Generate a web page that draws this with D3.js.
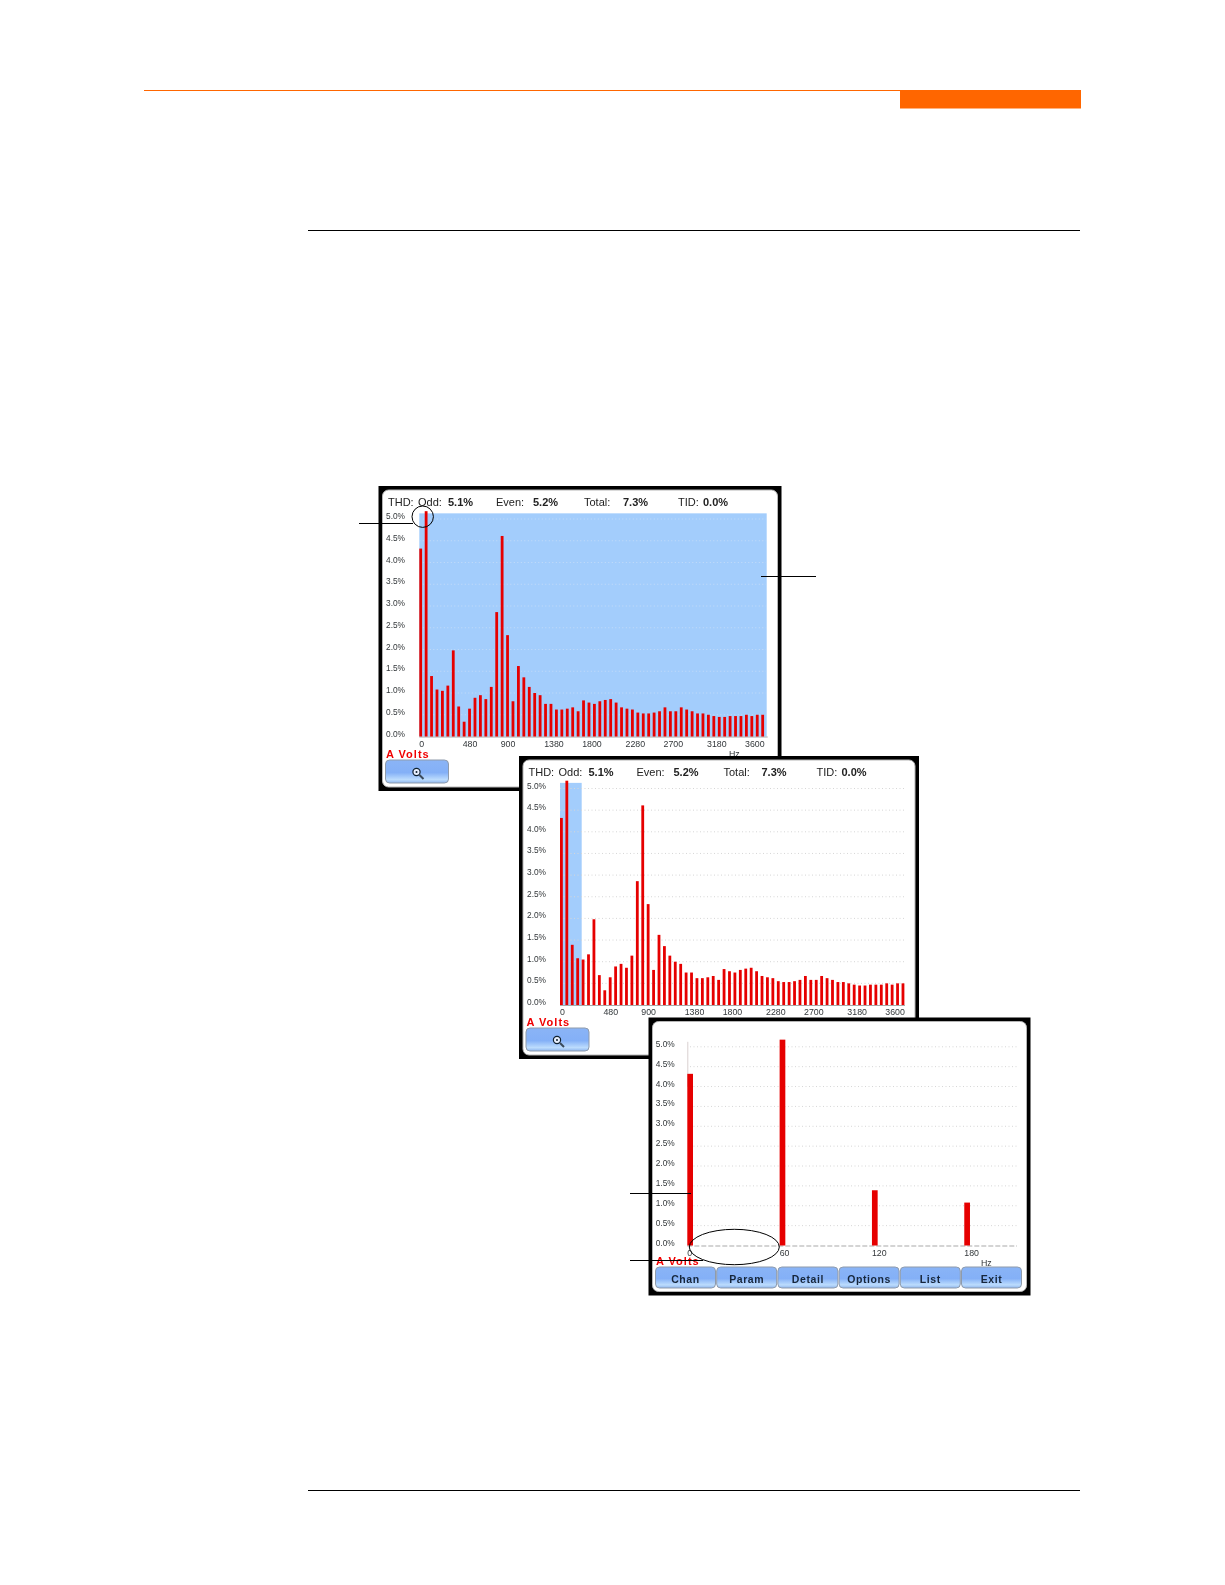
<!DOCTYPE html>
<html>
<head>
<meta charset="utf-8">
<script src="https://cdn.jsdelivr.net/npm/d3@7"></script>
<style>
  html, body { margin: 0; background: #fff; }
  svg { display: block; }
  text { font-family: "Liberation Sans", sans-serif; }
</style>
</head>
<body>
<script>
// harmonic spectrum, one value every 60 Hz, in percent
var harmonicHz = d3.range(64).map(function (i) { return i * 60 })
var harmonicPct = [
  4.32, 5.18, 1.39, 1.08, 1.05, 1.17, 1.98, 0.69, 0.34, 0.64, 0.89, 0.95, 0.86, 1.14, 2.86, 4.61,
  2.33, 0.81, 1.62, 1.36, 1.14, 1.00, 0.95, 0.75, 0.75, 0.62, 0.62, 0.64, 0.67, 0.58, 0.83, 0.78,
  0.75, 0.81, 0.84, 0.86, 0.78, 0.67, 0.64, 0.62, 0.55, 0.53, 0.53, 0.55, 0.58, 0.67, 0.58, 0.58,
  0.67, 0.62, 0.58, 0.53, 0.53, 0.50, 0.47, 0.45, 0.45, 0.47, 0.47, 0.47, 0.50, 0.47, 0.50, 0.50
]
var yTicks = [0, 0.5, 1, 1.5, 2, 2.5, 3, 3.5, 4, 4.5, 5]
var fullTicks = [0, 480, 900, 1380, 1800, 2280, 2700, 3180, 3600]
var zoomTicks = [0, 60, 120, 180]
var headerLabels = ['Odd:', 'Even:', 'Total:', 'TID:']
var headerValues = ['5.1%', '5.2%', '7.3%', '0.0%']
var softKeys = ['Chan', 'Param', 'Detail', 'Options', 'List', 'Exit']

var RED = '#e60000'
var BLUE = '#a3cdfc'

var svg = d3.select('body').append('svg').attr('width', 1225).attr('height', 1585)

var defs = svg.append('defs')
var grad = defs.append('linearGradient').attr('id', 'btn').attr('x1', 0).attr('x2', 0).attr('y1', 0).attr('y2', 1)
grad.append('stop').attr('offset', '0%').attr('stop-color', '#8ab4f6')
grad.append('stop').attr('offset', '55%').attr('stop-color', '#84b0f7')
grad.append('stop').attr('offset', '85%').attr('stop-color', '#bcdcfd')
grad.append('stop').attr('offset', '100%').attr('stop-color', '#8fb6ee')
defs.append('filter').attr('id', 'soft')
  .append('feGaussianBlur').attr('stdDeviation', 0.35)

// page furniture
svg.append('rect').attr('x', 144).attr('y', 90).attr('width', 756).attr('height', 1).attr('fill', '#ff6600')
svg.append('rect').attr('x', 900).attr('y', 90).attr('width', 181).attr('height', 18.5).attr('fill', '#ff6600')
svg.append('rect').attr('x', 308).attr('y', 230).attr('width', 772).attr('height', 1).attr('fill', '#000')
svg.append('rect').attr('x', 308).attr('y', 1490).attr('width', 772).attr('height', 1).attr('fill', '#000')

function button (g, x, y, w, h, label) {
  var b = g.append('g').attr('transform', `translate(${x},${y})`)
  b.append('rect').attr('width', w).attr('height', h).attr('rx', 4)
    .attr('fill', 'url(#btn)').attr('stroke', '#8f9bab').attr('stroke-width', 1)
  if (label) {
    b.append('text').attr('x', w / 2).attr('y', h / 2 + 5).attr('text-anchor', 'middle')
      .attr('font-size', 10.5).attr('font-weight', 'bold').attr('letter-spacing', 0.6)
      .attr('fill', '#16263a').text(label)
  }
  return b
}

function panel (p) {
  var g = svg.append('g')

  // black frame with the white rounded screen inside
  g.append('rect').attr('x', p.x).attr('y', p.y).attr('width', p.w).attr('height', p.h).attr('fill', '#000')
  g.append('rect').attr('x', p.x + 4).attr('y', p.y + 4).attr('width', p.w - 8).attr('height', p.h - 8)
    .attr('rx', 6).attr('fill', '#fff').attr('stroke', '#b5b5b5').attr('stroke-width', 1)

  var inner = g.append('g').attr('filter', 'url(#soft)')

  var x = d3.scaleLinear().domain(p.domain).range(p.xRange)
  var y = d3.scaleLinear().domain([0, 5]).range([p.base, p.base - p.step * 10])

  // selection highlight behind the plot
  if (p.shade) {
    inner.append('rect').attr('x', x(p.shade[0])).attr('width', x(p.shade[1]) - x(p.shade[0]))
      .attr('y', y(5) - p.step * 0.26).attr('height', p.base - y(5) + p.step * 0.26)
      .attr('fill', BLUE)
  }

  inner.selectAll('.grid').data(yTicks.slice(1)).enter().append('line')
    .attr('class', 'grid')
    .attr('x1', p.gridStart).attr('x2', p.gridEnd)
    .attr('y1', d => y(d)).attr('y2', d => y(d))
    .attr('stroke', p.gridColor).attr('stroke-width', 1).attr('stroke-dasharray', '1 2.5')

  if (p.stem) {
    inner.append('line').attr('x1', x(0) + 0.5).attr('x2', x(0) + 0.5)
      .attr('y1', y(5) - 5).attr('y2', y(4)).attr('stroke', '#d9d0d0').attr('stroke-width', 1)
  }

  // baseline
  inner.append('line').attr('x1', x(0)).attr('x2', p.gridEnd)
    .attr('y1', p.base + 0.5).attr('y2', p.base + 0.5)
    .attr('stroke', '#a9a9a9').attr('stroke-width', 1)
    .attr('stroke-dasharray', p.baseDash || null)

  // bars
  var rows = harmonicHz.map(function (hz, i) { return {hz: hz, pct: harmonicPct[i]} })
    .filter(function (d) { return d.hz <= p.maxHz })
  inner.selectAll('.bar').data(rows).enter().append('rect')
    .attr('class', 'bar')
    .attr('x', d => x(d.hz))
    .attr('width', p.barW)
    .attr('y', d => y(d.pct))
    .attr('height', d => p.base - y(d.pct))
    .attr('fill', RED)

  // y axis labels
  inner.selectAll('.ylab').data(yTicks).enter().append('text')
    .attr('class', 'ylab')
    .attr('x', p.yLabelX)
    .attr('y', d => y(d))
    .attr('font-size', 8.8).attr('font-family', 'DejaVu Sans').attr('fill', '#33373a')
    .attr('textLength', 19).attr('lengthAdjust', 'spacingAndGlyphs')
    .text(d => d.toFixed(1) + '%')

  // x axis labels start at the bar they belong to
  inner.selectAll('.xlab').data(p.ticks).enter().append('text')
    .attr('class', 'xlab')
    .attr('x', d => x(d))
    .attr('y', p.base + 10)
    .attr('font-size', 8.8).attr('font-family', 'DejaVu Sans').attr('fill', '#33373a')
    .text(d => d)

  inner.append('text').attr('x', p.hzX).attr('y', p.base + 20)
    .attr('font-size', 8.8).attr('font-family', 'DejaVu Sans').attr('fill', '#33373a').text('Hz')

  inner.append('text').attr('x', p.x + 7.5).attr('y', p.voltsY)
    .attr('font-size', 11).attr('font-weight', 'bold').attr('letter-spacing', 1)
    .attr('fill', '#f00000').text('A  Volts')

  // readout line
  if (p.header) {
    var hx = p.x + 9.5
    var hy = p.y + 20
    var put = function (tx, s, bold) {
      inner.append('text').attr('x', tx).attr('y', hy).attr('font-size', 11)
        .attr('font-weight', bold ? 'bold' : 'normal').attr('fill', '#222').text(s)
    }
    put(hx, 'THD:')
    put(hx + p.header[0], headerLabels[0])
    put(hx + p.header[1], headerValues[0], true)
    put(hx + p.header[2], headerLabels[1])
    put(hx + p.header[3], headerValues[1], true)
    put(hx + p.header[4], headerLabels[2])
    put(hx + p.header[5], headerValues[2], true)
    put(hx + p.header[6], headerLabels[3])
    put(hx + p.header[7], headerValues[3], true)
  }

  // soft keys
  if (p.keys) {
    softKeys.forEach(function (k, i) {
      button(inner, p.x + 7 + i * 61.2, p.keyY, 60, 21, k)
    })
  } else {
    var b = button(inner, p.x + 7, p.keyY, 63, 23)
    b.append('circle').attr('cx', 31).attr('cy', 12).attr('r', 3.6)
      .attr('fill', '#e8f0ff').attr('stroke', '#10202f').attr('stroke-width', 1.2)
    b.append('circle').attr('cx', 31).attr('cy', 12).attr('r', 1).attr('fill', '#10202f')
    b.append('line').attr('x1', 34).attr('y1', 15).attr('x2', 38).attr('y2', 19)
      .attr('stroke', '#3a4a5a').attr('stroke-width', 2)
  }
}

panel({
  x: 378.5, y: 486, w: 403, h: 305,
  domain: [0, 3840], xRange: [419.3, 766.7], maxHz: 3780, ticks: fullTicks,
  base: 736.5, step: 21.75, barW: 2.8,
  shade: [0, 3840], gridColor: '#c4dcf8', gridStart: 419.3, gridEnd: 767.7,
  yLabelX: 386, hzX: 729, voltsY: 758,
  header: [30, 60, 108, 145, 196, 235, 290, 315], keyY: 760
})

panel({
  x: 519, y: 756, w: 400, h: 303,
  domain: [0, 3840], xRange: [560, 907], maxHz: 3780, ticks: fullTicks,
  base: 1005, step: 21.65, barW: 2.8,
  shade: [0, 240], gridColor: '#d6d6d6', gridStart: 560, gridEnd: 905,
  yLabelX: 527, hzX: 868, voltsY: 1026,
  header: [30, 60, 108, 145, 195, 233, 288, 313], keyY: 1028
})

panel({
  x: 648.5, y: 1017.5, w: 382, h: 278,
  domain: [0, 240], xRange: [687.3, 1056.6], maxHz: 180, ticks: zoomTicks,
  base: 1245.5, step: 19.87, barW: 5.7,
  gridColor: '#d6d6d6', gridStart: 690, gridEnd: 1017, baseDash: '5 2', stem: true,
  yLabelX: 655.7, hzX: 981, voltsY: 1265,
  keys: true, keyY: 1267
})

// callouts
var notes = svg.append('g').attr('stroke', '#000').attr('stroke-width', 1).attr('fill', 'none')
notes.append('circle').attr('cx', 422.7).attr('cy', 516.7).attr('r', 10.7)
notes.append('ellipse').attr('cx', 734.3).attr('cy', 1247).attr('rx', 45).attr('ry', 17.7)
notes.append('line').attr('x1', 359).attr('x2', 413).attr('y1', 523.5).attr('y2', 523.5)
notes.append('line').attr('x1', 761).attr('x2', 816).attr('y1', 576.5).attr('y2', 576.5)
notes.append('line').attr('x1', 630).attr('x2', 691).attr('y1', 1193.5).attr('y2', 1193.5)
notes.append('line').attr('x1', 630).attr('x2', 703).attr('y1', 1260.5).attr('y2', 1260.5)
</script>
</body>
</html>
